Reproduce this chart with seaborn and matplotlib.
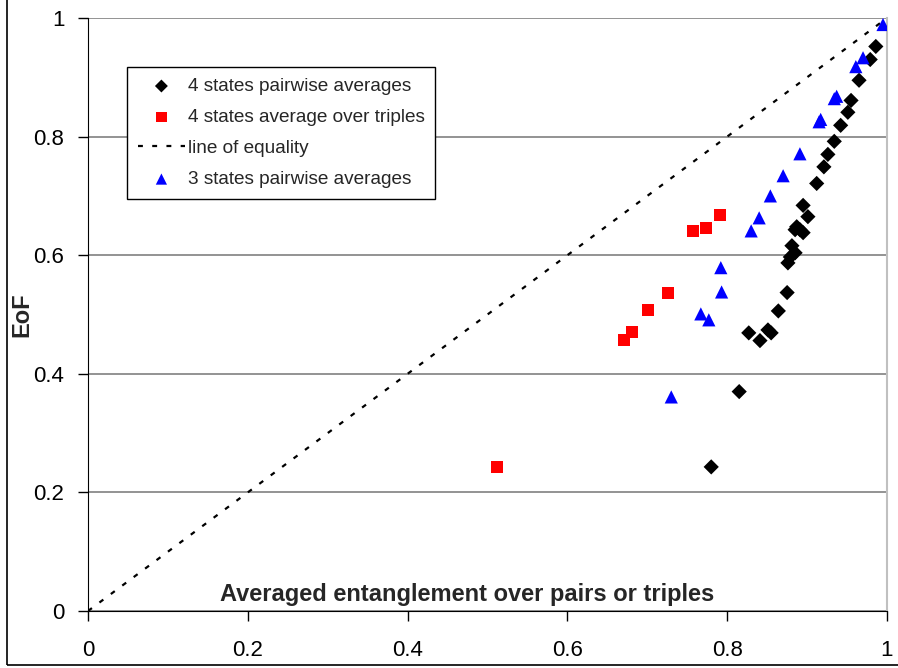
"""
EoF versus averaged entanglement over pairs or triples.
"""

import matplotlib
matplotlib.use("Agg")
import matplotlib.pyplot as plt
import seaborn as sns
import pandas as pd
from matplotlib.patches import Rectangle

# 4 states pairwise averages (black diamonds)
pair4_x = [0.780, 0.815, 0.827, 0.841, 0.851, 0.855, 0.864, 0.875, 0.876, 0.879,
           0.881, 0.885, 0.885, 0.887, 0.891, 0.895, 0.901, 0.895, 0.912, 0.921,
           0.926, 0.934, 0.942, 0.951, 0.955, 0.965, 0.979, 0.986]
pair4_y = [0.243, 0.370, 0.469, 0.456, 0.474, 0.469, 0.506, 0.537, 0.587, 0.597,
           0.616, 0.604, 0.643, 0.648, 0.643, 0.638, 0.665, 0.684, 0.721, 0.749,
           0.770, 0.792, 0.819, 0.841, 0.861, 0.895, 0.930, 0.952]

# 4 states average over triples (red squares)
trip4_x = [0.512, 0.671, 0.681, 0.701, 0.726, 0.757, 0.773, 0.791]
trip4_y = [0.243, 0.457, 0.471, 0.508, 0.537, 0.641, 0.646, 0.667]

# 3 states pairwise averages (blue triangles)
pair3_x = [0.730, 0.767, 0.777, 0.793, 0.792, 0.830, 0.840, 0.854, 0.870, 0.891,
           0.915, 0.917, 0.934, 0.937, 0.961, 0.970, 0.995]
pair3_y = [0.361, 0.501, 0.491, 0.538, 0.579, 0.641, 0.663, 0.700, 0.734, 0.771,
           0.825, 0.829, 0.864, 0.868, 0.918, 0.933, 0.989]

# line of equality
eq_x = [0.0, 1.0]
eq_y = [0.0, 1.0]

ticks = [0, 0.2, 0.4, 0.6, 0.8, 1]
tick_labels = ['0', '0.2', '0.4', '0.6', '0.8', '1']

sns.set_style("white")
plt.rcParams['font.family'] = ['Liberation Sans', 'DejaVu Sans']

fig = plt.figure(figsize=(8.98, 6.68), dpi=100)
ax = fig.add_axes([88/898, 57/668, 799/898, 593/668])

sns.lineplot(x=eq_x, y=eq_y, ax=ax, color='black', lw=1.6,
             linestyle=(0, (2.2, 4.2)), label='line of equality', zorder=2)
sns.scatterplot(data=pd.DataFrame({'x': pair4_x, 'y': pair4_y}), x='x', y='y', ax=ax,
                marker='D', s=60, color='black', edgecolor='none',
                label='4 states pairwise averages', zorder=3)
sns.scatterplot(data=pd.DataFrame({'x': trip4_x, 'y': trip4_y}), x='x', y='y', ax=ax,
                marker='s', s=75, color='#ff0000', edgecolor='none',
                label='4 states average over triples', zorder=3)
sns.scatterplot(data=pd.DataFrame({'x': pair3_x, 'y': pair3_y}), x='x', y='y', ax=ax,
                marker='^', s=90, color='#0000ff', edgecolor='none',
                label='3 states pairwise averages', zorder=3)

ax.set_xlim(0, 1)
ax.set_ylim(0, 1)
ax.set_xticks(ticks)
ax.set_yticks(ticks)
ax.set_xticklabels(tick_labels, fontsize=16)
ax.set_yticklabels(tick_labels, fontsize=16)
ax.tick_params(axis='x', direction='out', length=7, width=1, pad=14, colors='black')
ax.tick_params(axis='y', direction='out', length=7, width=1, pad=10, colors='black')
ax.xaxis.set_ticks_position('bottom')
ax.yaxis.set_ticks_position('left')

ax.grid(axis='y', color='#808080', lw=1.2)
ax.set_axisbelow(True)
ax.spines['left'].set_color('black')
ax.spines['bottom'].set_color('black')
ax.spines['top'].set_visible(False)
ax.spines['right'].set_color('#c0c0c0')
ax.spines['right'].set_linewidth(1.5)

ax.set_xlabel('')
ax.set_ylabel('EoF', fontsize=17, fontweight='bold', labelpad=0)
ax.text(0.475, 0.028, 'Averaged entanglement over pairs or triples', transform=ax.transAxes,
        ha='center', va='center', fontsize=17, fontweight='bold')

handles, labels = ax.get_legend_handles_labels()
order = [labels.index(l) for l in ['4 states pairwise averages', '4 states average over triples',
                                   'line of equality', '3 states pairwise averages']]
leg = ax.legend([handles[i] for i in order], [labels[i] for i in order],
                loc='upper left', bbox_to_anchor=(0.049, 0.917), borderaxespad=0,
                fontsize=13.7, frameon=True, fancybox=False, framealpha=1,
                edgecolor='black', handlelength=2.5, handletextpad=0.15,
                labelspacing=0.72, borderpad=0.55, markerscale=0.85)
leg.get_frame().set_linewidth(1)

# outer chart border: only left and bottom edges fall inside the image
fig.patches.append(Rectangle((7/898, 3/668), 900/898, 670/668, transform=fig.transFigure,
                             fill=False, edgecolor='black', lw=1.2))

plt.savefig('out.png', dpi=100)
plt.close()
